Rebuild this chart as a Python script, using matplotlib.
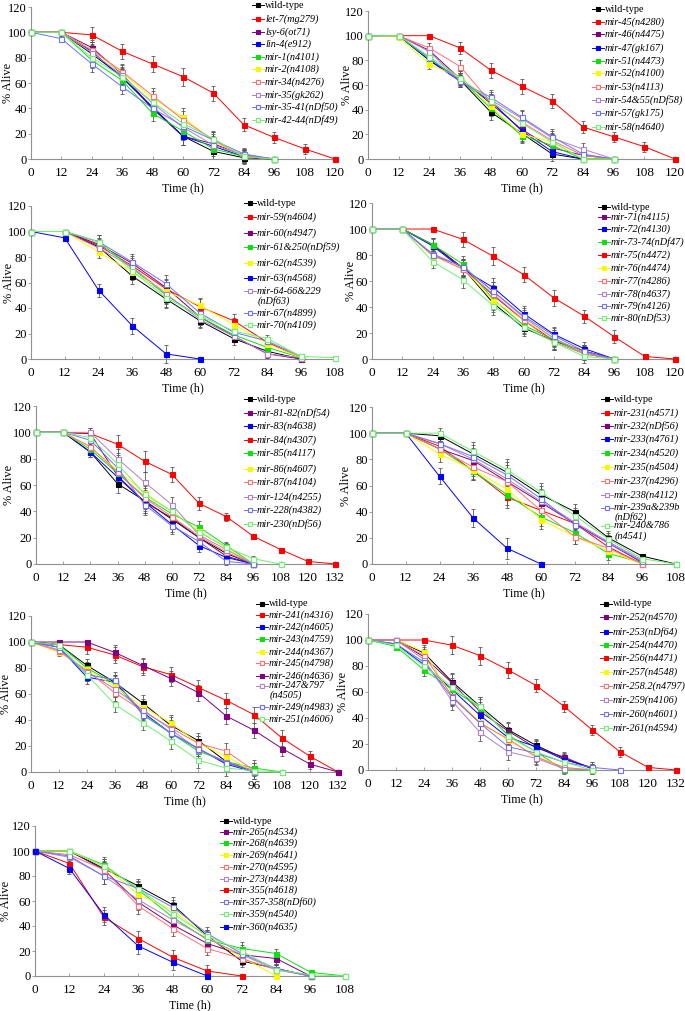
import matplotlib
matplotlib.use('Agg')
import matplotlib.pyplot as plt
from matplotlib.lines import Line2D

plt.rcParams['font.family'] = ['Liberation Serif', 'DejaVu Serif']

W, H = 685, 1011

# ---- data (% alive at 12 h steps) ----
p1_labels = ['wild-type', 'let-7(mg279)', 'lsy-6(ot71)', 'lin-4(e912)', 'mir-1(n4101)', 'mir-2(n4108)',
             'mir-34(n4276)', 'mir-35(gk262)', 'mir-35-41(nDf50)', 'mir-42-44(nDf49)']
p1_values = [[100, 100, 83, 65, 40, 18, 6, 1, 0],
             [100, 100, 98, 85, 75, 65, 52, 27, 17, 8, 0],
             [100, 100, 88, 67, 40, 18, 12, 3, 0],
             [100, 100, 85, 64, 41, 18, 10, 2, 0],
             [100, 100, 78, 62, 36, 22, 8, 2, 0],
             [100, 100, 86, 68, 48, 33, 14, 2, 0],
             [100, 100, 86, 69, 50, 31, 15, 2, 0],
             [100, 100, 84, 66, 44, 25, 11, 3, 0],
             [100, 95, 75, 57, 40, 26, 15, 4, 0],
             [100, 100, 80, 65, 45, 28, 16, 2, 0]]
p1_err = [0, 2, 6, 6, 6, 7, 6, 5, 4, 4, 0]
p1_styles = ['k', 'r', 'p', 'b', 'g', 'y', 'so', 'po', 'bo', 'go']

p2_labels = ['wild-type', 'mir-45(n4280)', 'mir-46(n4475)', 'mir-47(gk167)', 'mir-51(n4473)', 'mir-52(n4100)',
             'mir-53(n4113)', 'mir-54&55(nDf58)', 'mir-57(gk175)', 'mir-58(n4640)']
p2_values = [[100, 100, 80, 64, 38, 21, 4, 0, 0],
             [100, 100, 100, 90, 72, 59, 47, 26, 18, 10, 0],
             [100, 100, 88, 65, 45, 24, 9, 3, 0],
             [100, 100, 80, 63, 47, 23, 6, 0, 0],
             [100, 100, 81, 65, 41, 19, 11, 0, 0],
             [100, 99, 77, 66, 43, 20, 14, 0, 0],
             [100, 100, 90, 75, 46, 30, 15, 3, 0],
             [100, 100, 87, 63, 48, 33, 17, 8, 0],
             [100, 100, 82, 63, 50, 34, 18, 4, 0],
             [100, 100, 83, 66, 47, 29, 14, 0, 0]]
p2_err = [0, 0, 4, 5, 6, 6, 6, 5, 4, 4, 0]
p2_styles = ['k', 'r', 'p', 'b', 'g', 'y', 'so', 'po', 'bo', 'go']

p3_labels = ['wild-type', 'mir-59(n4604)', 'mir-60(n4947)', 'mir-61&250(nDf59)', 'mir-62(n4539)', 'mir-63(n4568)',
             'mir-64-66&229\n(nDf63)', 'mir-67(n4899)', 'mir-70(n4109)']
p3_values = [[100, 100, 88, 65, 47, 30, 16, 6, 0],
             [100, 100, 89, 73, 55, 41, 30, 13, 1],
             [100, 100, 90, 75, 56, 33, 18, 4, 0],
             [100, 100, 92, 71, 50, 33, 19, 9, 1],
             [100, 100, 84, 68, 53, 42, 27, 12, 1],
             [100, 95, 54, 26, 4, 0],
             [100, 100, 87, 72, 51, 31, 18, 4, 1],
             [100, 100, 92, 76, 59, 36, 21, 14, 2],
             [100, 100, 92, 69, 48, 34, 22, 16, 2, 1]]
p3_err = [0, 2, 5, 6, 7, 6, 5, 3, 1, 0]
p3_styles = ['k', 'r', 'p', 'g', 'y', 'b', 'po', 'bo', 'go']

p4_labels = ['wild-type', 'mir-71(n4115)', 'mir-72(n4130)', 'mir-73-74(nDf47)', 'mir-75(n4472)', 'mir-76(n4474)',
             'mir-77(n4286)', 'mir-78(n4637)', 'mir-79(n4126)', 'mir-80(nDf53)']
p4_values = [[100, 100, 88, 70, 43, 24, 14, 6, 0],
             [100, 100, 88, 70, 49, 30, 14, 6, 0],
             [100, 100, 87, 69, 55, 35, 19, 8, 0],
             [100, 100, 88, 73, 46, 26, 15, 4, 0],
             [100, 100, 100, 92, 79, 65, 47, 33, 17, 2, 0],
             [100, 100, 79, 70, 45, 30, 16, 5, 0],
             [100, 100, 80, 69, 50, 30, 13, 4, 0],
             [100, 100, 81, 71, 52, 32, 16, 5, 0],
             [100, 100, 80, 71, 52, 33, 18, 6, 0],
             [100, 100, 75, 61, 41, 25, 13, 2, 0]]
p4_err = [0, 0, 5, 6, 7, 6, 6, 5, 5, 1, 0]
p4_styles = ['k', 'p', 'b', 'g', 'r', 'y', 'so', 'po', 'bo', 'go']

p5_labels = ['wild-type', 'mir-81-82(nDf54)', 'mir-83(n4638)', 'mir-84(n4307)', 'mir-85(n4117)', 'mir-86(n4607)',
             'mir-87(n4104)', 'mir-124(n4255)', 'mir-228(n4382)', 'mir-230(nDf56)']
p5_values = [[100, 100, 85, 61, 48, 34, 20, 8, 0],
             [100, 100, 99, 67, 47, 35, 20, 6, 0],
             [100, 100, 85, 66, 47, 30, 14, 5, 0],
             [100, 100, 99, 91, 78, 68, 46, 36, 21, 11, 2, 0],
             [100, 100, 87, 69, 51, 38, 28, 14, 0],
             [100, 100, 89, 71, 54, 40, 25, 12, 0],
             [100, 100, 89, 70, 50, 36, 21, 9, 0],
             [100, 100, 100, 80, 62, 45, 22, 11, 0],
             [100, 100, 94, 73, 45, 29, 17, 2, 0],
             [100, 100, 96, 76, 53, 40, 24, 13, 4, 0]]
p5_err = [0, 0, 4, 7, 8, 6, 5, 3, 2, 1, 1, 0]
p5_styles = ['k', 'p', 'b', 'r', 'g', 'y', 'so', 'po', 'bo', 'go']

p6_labels = ['wild-type', 'mir-231(n4571)', 'mir-232(nDf56)', 'mir-233(n4761)', 'mir-234(n4520)', 'mir-235(n4504)',
             'mir-237(n4296)', 'mir-238(n4112)', 'mir-239a&239b\n(nDf62)', 'mir-240&786\n(n4541)']
p6_values = [[100, 100, 98, 84, 70, 53, 40, 20, 6, 0],
             [100, 100, 90, 71, 51, 41, 31, 13, 0],
             [100, 100, 88, 79, 63, 47, 31, 16, 1],
             [100, 100, 67, 35, 12, 0],
             [100, 100, 88, 71, 53, 36, 24, 8, 1],
             [100, 100, 84, 72, 57, 34, 21, 10, 0],
             [100, 100, 88, 74, 63, 41, 21, 12, 0],
             [100, 100, 92, 80, 65, 48, 32, 17, 3],
             [100, 100, 92, 82, 68, 50, 30, 16, 2],
             [100, 100, 100, 86, 72, 55, 37, 19, 4, 0]]
p6_err = [0, 0, 6, 7, 8, 7, 6, 5, 2, 0]
p6_styles = ['k', 'r', 'p', 'b', 'g', 'y', 'so', 'po', 'bo', 'go']

p7_labels = ['wild-type', 'mir-241(n4316)', 'mir-242(n4605)', 'mir-243(n4759)', 'mir-244(n4367)', 'mir-245(n4798)',
             'mir-246(n4636)', 'mir-247&797\n(n4505)', 'mir-249(n4983)', 'mir-251(n4606)']
p7_values = [[100, 98, 82, 69, 53, 36, 24, 8, 0],
             [100, 98, 96, 90, 81, 75, 65, 55, 44, 26, 12, 0],
             [100, 96, 73, 69, 46, 30, 18, 6, 0],
             [100, 98, 80, 68, 45, 30, 16, 8, 3, 0],
             [100, 92, 79, 66, 50, 38, 22, 12, 0],
             [100, 93, 78, 61, 47, 34, 22, 16, 1],
             [100, 100, 100, 92, 82, 72, 61, 43, 32, 18, 6, 0],
             [100, 94, 77, 64, 48, 33, 17, 8, 1],
             [100, 96, 75, 71, 44, 30, 18, 7, 0],
             [100, 98, 75, 52, 38, 24, 9, 3, 1, 0]]
p7_err = [0, 3, 5, 6, 6, 6, 6, 6, 6, 6, 4, 0]
p7_styles = ['k', 'r', 'b', 'g', 'y', 'so', 'p', 'po', 'bo', 'go']

p8_labels = ['wild-type', 'mir-252(n4570)', 'mir-253(nDf64)', 'mir-254(n4470)', 'mir-256(n4471)', 'mir-257(n4548)',
             'mir-258.2(n4797)', 'mir-259(n4106)', 'mir-260(n4601)', 'mir-261(n4594)']
p8_values = [[100, 100, 90, 68, 49, 31, 19, 9, 1],
             [100, 100, 87, 67, 45, 30, 17, 10, 1],
             [100, 97, 81, 62, 42, 25, 18, 8, 2],
             [100, 95, 77, 62, 48, 27, 14, 0, 0],
             [100, 100, 100, 96, 88, 77, 65, 49, 31, 14, 2, 0],
             [100, 100, 91, 57, 37, 23, 11, 2, 0],
             [100, 100, 88, 57, 36, 24, 10, 2, 0],
             [100, 100, 85, 53, 29, 14, 9, 1, 0],
             [100, 97, 83, 56, 36, 18, 13, 6, 2, 0],
             [100, 96, 80, 64, 49, 26, 14, 6, 0]]
p8_err = [0, 2, 5, 7, 7, 6, 5, 4, 4, 4, 2, 0]
p8_styles = ['k', 'p', 'b', 'g', 'r', 'y', 'so', 'po', 'bo', 'go']

p9_labels = ['wild-type', 'mir-265(n4534)', 'mir-268(n4639)', 'mir-269(n4641)', 'mir-270(n4595)', 'mir-273(n4438)',
             'mir-355(n4618)', 'mir-357-358(nDf60)', 'mir-359(n4540)', 'mir-360(n4635)']
p9_values = [[100, 100, 86, 72, 57, 32, 12, 6, 0],
             [100, 100, 85, 59, 41, 26, 17, 14, 0],
             [100, 100, 89, 69, 47, 29, 22, 18, 3, 0],
             [100, 100, 88, 65, 53, 31, 15, 0],
             [100, 97, 85, 56, 38, 22, 14, 5, 0],
             [100, 95, 80, 61, 45, 30, 17, 5, 0],
             [100, 90, 47, 30, 15, 4, 0],
             [100, 96, 80, 70, 55, 34, 18, 6, 0],
             [100, 100, 88, 70, 50, 32, 20, 5, 1, 0],
             [100, 86, 49, 24, 11, 0]]
p9_err = [0, 4, 6, 6, 6, 5, 5, 4, 2, 0]
p9_styles = ['k', 'p', 'g', 'y', 'so', 'po', 'r', 'bo', 'go', 'b']

xmax_list = [120, 120, 108, 120, 132, 108, 132, 132, 108]

# ---- styles ----
STYLE = {
    'k': ('#000000', True), 'r': ('#FF0000', True), 'p': ('#800080', True),
    'b': ('#0000FF', True), 'g': ('#11DD11', True), 'y': ('#F8F800', True),
    'so': ('#FF7070', False), 'po': ('#B080C8', False), 'bo': ('#7070FF', False),
    'go': ('#70F070', False),
}

# ---- layout, in pixels ----
# axes boxes: left, right, top(y=120), bottom(y=0)
boxes = [(31, 335, 7, 159), (368, 675, 11, 159),
         (31, 335, 206, 359), (372, 675, 203, 359),
         (36, 335, 406, 564), (372, 676, 407, 564),
         (31, 338, 616, 772), (368, 676, 614, 770),
         (35, 345, 826, 976)]
ylabel_right = [14, 353, 15, 357, 15, 352, 12, 349, 12]
# legend marker x and row y (tuple = two-line entry)
leg_x = [258, 598, 250, 604, 250, 607, 262, 606, 226]
leg_y = [[5, 19, 32, 44, 57, 69, 82, 95, 107, 120],
         [9, 22, 34, 48, 61, 73, 87, 100, 113, 127],
         [203, 217, 233, 247, 263, 278, (291, 301), 313, 325],
         [207, 217, 229, 242, 255, 268, 281, 294, 306, 318],
         [399, 413, 426, 440, 453, 469, 482, 497, 510, 524],
         [399, 413, 426, 439, 453, 467, 481, 495, (508, 517), (526, 536)],
         [604, 615, 627, 639, 652, 663, 676, (686, 695), 707, 719],
         [604, 617, 632, 645, 658, 672, 686, 700, 714, 728],
         [821, 832, 843, 855, 867, 879, 890, 902, 914, 927]]

panels = [(p1_labels, p1_values, p1_err, p1_styles), (p2_labels, p2_values, p2_err, p2_styles),
          (p3_labels, p3_values, p3_err, p3_styles), (p4_labels, p4_values, p4_err, p4_styles),
          (p5_labels, p5_values, p5_err, p5_styles), (p6_labels, p6_values, p6_err, p6_styles),
          (p7_labels, p7_values, p7_err, p7_styles), (p8_labels, p8_values, p8_err, p8_styles),
          (p9_labels, p9_values, p9_err, p9_styles)]


def fx(px):
    return px / W


def fy(py):
    return 1 - py / H


def draw_legend(fig, labels, styles, mx, ys):
    for lab, st, y in zip(labels, styles, ys):
        col, filled = STYLE[st]
        if isinstance(y, tuple):
            y1, y2 = y
        else:
            y1, y2 = y, None
        fig.add_artist(Line2D([fx(mx - 6), fx(mx + 6)], [fy(y1), fy(y1)], color=col, lw=0.7,
                              transform=fig.transFigure))
        fig.add_artist(Line2D([fx(mx)], [fy(y1)], marker='s', ms=3.4, color=col,
                              mfc=col if filled else 'white', mec=col, mew=0.8,
                              transform=fig.transFigure))
        style = 'normal' if lab == 'wild-type' else 'italic'
        parts = lab.split('\n')
        fig.text(fx(mx + 7), fy(y1), parts[0], fontsize=7.4, style=style, va='center', ha='left')
        if y2 is not None:
            fig.text(fx(mx + 8), fy(y2), parts[1], fontsize=7.4, style=style, va='center', ha='left')


fig = plt.figure(figsize=(W / 100, H / 100), dpi=100)

for i, (labels, values, err, styles) in enumerate(panels):
    l, r, t, b = boxes[i]
    ax = fig.add_axes([fx(l), fy(b), (r - l) / W, (b - t) / H])
    for lab, vals, st in zip(labels, values, styles):
        col, filled = STYLE[st]
        xs = [12 * k for k in range(len(vals))]
        ye = [err[k] if 0 < v < 100 else 0 for k, v in enumerate(vals)]
        ax.errorbar(xs, vals, yerr=ye, fmt='none', ecolor='0.35', elinewidth=0.6,
                    capsize=1.3, capthick=0.6, clip_on=False, zorder=2)
        ax.plot(xs, vals, color=col, lw=0.7, marker='s', ms=3.6,
                mfc=col if filled else 'white', mec=col, mew=0.8,
                clip_on=False, zorder=3, label=lab)

    xm = xmax_list[i]
    ax.set_xlim(0, xm)
    ax.set_ylim(0, 120)
    ax.set_xticks(range(0, xm + 1, 12))
    ax.set_yticks(range(0, 121, 20))
    for s in ['top', 'right']:
        ax.spines[s].set_visible(False)
    for s in ['left', 'bottom']:
        ax.spines[s].set_color('#909090')
        ax.spines[s].set_linewidth(0.8)
    ax.tick_params(axis='x', direction='in', length=2, width=0.6, color='#909090',
                   labelsize=9.5, pad=6)
    ax.tick_params(axis='y', direction='out', length=2, width=0.6, color='#909090',
                   labelsize=9, pad=1)
    ax.set_xlabel('Time (h)', fontsize=8.6, labelpad=2)
    ax.set_ylabel('% Alive', fontsize=8.8)
    ax.yaxis.set_label_coords((ylabel_right[i] - l) / (r - l), 0.5)

    draw_legend(fig, labels, styles, leg_x[i], leg_y[i])

fig.savefig('out.png', dpi=100)
